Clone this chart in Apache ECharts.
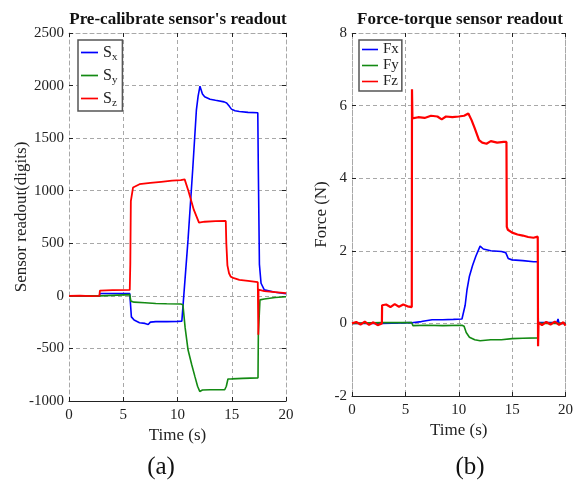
<!DOCTYPE html>
<html><head><meta charset="utf-8">
<script src="https://cdn.jsdelivr.net/npm/echarts@6/dist/echarts.min.js"></script>
<style>html,body{margin:0;padding:0;background:#fff}#c{width:576px;height:480px}</style>
</head><body><div id="c"></div>
<script>
// ---------- (a) Pre-calibrate sensor's readout ----------
const sxT = [0,2.8,2.85,5.6,5.65,5.75,6.0,6.5,7.0,7.3,7.5,8.0,9.0,10.0,10.4,10.5,10.97,11.4,11.74,11.9,12.07,12.3,12.5,13.0,13.5,14.3,14.53,14.8,14.97,15.3,15.7,16.5,17.4,17.45,17.55,17.7,18.0,19.0,20];
const sxV = [0,0,22,22,10,-200,-230,-255,-262,-272,-250,-245,-245,-243,-240,-228,532,1200,1766,1900,1994,1920,1893,1870,1860,1845,1835,1800,1776,1760,1754,1745,1741,1200,300,120,57,35,20];
const syT = [0,2.8,2.85,5.6,5.65,5.7,6.0,7.0,8.0,9.0,10.3,10.5,10.7,10.97,11.3,11.6,11.85,12.05,12.3,13.0,14.35,14.5,14.65,15.0,16.0,17.42,17.45,17.6,18.0,19.0,20];
const syV = [0,0,15,12,10,-50,-60,-65,-72,-75,-78,-85,-300,-513,-650,-766,-860,-909,-895,-893,-893,-860,-791,-790,-785,-780,-370,-38,-30,-15,-8];
const szT = [0,1,2,2.8,2.85,4,5.6,5.65,5.7,5.9,6.5,7.5,8.5,9.5,10.3,10.66,11.0,11.5,11.98,12.5,13.5,14.45,14.5,14.6,14.75,14.9,15.2,15.7,16.5,17.4,17.45,17.47,17.55,18,19,20];
const szV = [0,2,-2,0,50,55,57,300,900,1030,1062,1075,1085,1095,1100,1108,1000,820,696,705,710,712,500,290,215,183,168,152,142,130,-370,60,55,45,35,25];
const yTicksA = [-1000,-500,0,500,1000,1500,2000,2500];

// ---------- (b) Force-torque sensor readout ----------
const fxT = [0,2.8,5.6,5.7,6.5,7.5,8.5,9.5,10.3,10.46,10.6,10.77,11.0,11.3,11.6,12.0,12.3,13.0,14.0,14.4,14.63,15.0,16.0,17.0,17.4,17.45,17.6,18.5,19.2,19.3,19.4,20];
const fxV = [0,0,0.02,0.07,0.05,0.1,0.1,0.11,0.12,0.12,0.5,0.92,1.3,1.6,1.85,2.13,2.05,2.0,1.98,1.95,1.79,1.75,1.73,1.70,1.70,0.02,0,0.02,0.03,0.12,0,0];
const fyT = [0,2.8,5.6,5.7,7,8.5,10.3,10.5,10.7,11.0,11.5,12.0,13.0,14.0,15.0,16.0,17.4,17.45,20];
const fyV = [0,0.02,0.02,-0.06,-0.05,-0.06,-0.05,-0.08,-0.25,-0.38,-0.45,-0.48,-0.45,-0.45,-0.42,-0.41,-0.4,0,0];
const fzT = [0,0.4,0.8,1.2,1.6,2.0,2.4,2.8,2.82,3.2,3.6,4.0,4.4,4.8,5.2,5.6,5.62,5.66,5.7,6.2,6.8,7.4,8.0,8.4,8.8,9.4,10.0,10.5,10.9,11.2,11.5,11.9,12.2,12.6,13.0,13.6,14.2,14.47,14.5,14.6,15.0,15.5,16.0,16.5,17.0,17.4,17.43,17.47,17.8,18.2,18.6,19.0,19.4,19.8,20];
const fzV = [0,0.04,-0.03,0.05,-0.04,0.03,-0.05,0,0.5,0.52,0.45,0.53,0.46,0.52,0.47,0.45,6.45,5.65,5.62,5.68,5.66,5.72,5.70,5.62,5.70,5.68,5.70,5.72,5.78,5.6,5.37,5.05,4.98,4.95,5.02,4.98,5.0,5.0,2.66,2.58,2.5,2.45,2.42,2.38,2.36,2.39,-0.63,0.02,-0.05,0.04,-0.03,0.05,-0.04,0.03,-0.06];
const yTicksB = [-2,0,2,4,6,8];
const xTicks = [0,5,10,15,20];

const zip = (t, v) => t.map((x, i) => [x, v[i]]);
const FONT = '"Liberation Serif", "Times New Roman", serif';
const BLUE = '#0000ff', GREEN = '#138a13', RED = '#ff0000';
const grid = '#a8a8a8';
const plain = v => String(v);
const LEGICON = 'path://M0,0 L20,0 L20,2 L0,2 Z';

function mainX(gi, name) {
  return {
    type: 'value', gridIndex: gi, min: xTicks[0], max: xTicks[xTicks.length - 1], interval: 5,
    name: name, nameLocation: 'middle', nameGap: 26, nameMoveOverlap: false,
    nameTextStyle: { fontFamily: FONT, fontSize: 17, color: '#222' },
    axisLine: { show: true, onZero: false, lineStyle: { color: '#222', width: 1 } },
    axisTick: { show: true, inside: true, length: 4, lineStyle: { color: '#222' } },
    axisLabel: { fontFamily: FONT, fontSize: 15, color: '#222', margin: 7, formatter: plain },
    splitLine: { show: true, lineStyle: { color: grid, type: [4, 3] } }
  };
}
function topX(gi) {
  return {
    type: 'value', gridIndex: gi, position: 'top', min: 0, max: 20, interval: 5,
    axisLine: { show: true, onZero: false, lineStyle: { color: grid, type: [4, 3] } },
    axisTick: { show: true, inside: true, length: 4, lineStyle: { color: '#222' } },
    axisLabel: { show: false }, splitLine: { show: false }
  };
}
function mainY(gi, ticks, name, gap) {
  return {
    type: 'value', gridIndex: gi, min: ticks[0], max: ticks[ticks.length - 1], interval: ticks[1] - ticks[0],
    name: name, nameLocation: 'middle', nameGap: gap, nameMoveOverlap: false,
    nameTextStyle: { fontFamily: FONT, fontSize: 17, color: '#222' },
    axisLine: { show: true, onZero: false, lineStyle: { color: grid, type: [4, 3] } },
    axisTick: { show: true, inside: true, length: 4, lineStyle: { color: '#222' } },
    axisLabel: { fontFamily: FONT, fontSize: 15, color: '#222', margin: 5, formatter: plain },
    splitLine: { show: true, lineStyle: { color: grid, type: [4, 3] } }
  };
}
function rightY(gi, ticks) {
  return {
    type: 'value', gridIndex: gi, position: 'right', min: ticks[0], max: ticks[ticks.length - 1], interval: ticks[1] - ticks[0],
    axisLine: { show: true, onZero: false, lineStyle: { color: grid, type: [4, 3] } },
    axisTick: { show: true, inside: true, length: 4, lineStyle: { color: '#222' } },
    axisLabel: { show: false }, splitLine: { show: false }
  };
}
function line(name, data, xi, yi, color, w) {
  return { type: 'line', name: name, data: data, xAxisIndex: xi, yAxisIndex: yi,
    symbol: 'none', showSymbol: false, animation: false,
    lineStyle: { color: color, width: w }, itemStyle: { color: color } };
}

const chart = echarts.init(document.getElementById('c'), null, { renderer: 'canvas' });
chart.setOption({
  animation: false,
  backgroundColor: '#fff',
  grid: [
    { left: 69, top: 33, width: 217, height: 368 },
    { left: 352, top: 33, width: 216, height: 363 }
  ],
  xAxis: [mainX(0, 'Time (s)'), mainX(1, 'Time (s)'), topX(0), topX(1)],
  yAxis: [mainY(0, yTicksA, 'Sensor readout(digits)', 39), mainY(1, yTicksB, 'Force (N)', 22), rightY(0, yTicksA), rightY(1, yTicksB)],
  legend: [
    { data: ['Sx', 'Sy', 'Sz'], orient: 'vertical', left: 78, top: 40, icon: LEGICON,
      backgroundColor: '#fff', borderColor: '#555', borderWidth: 1.5, borderRadius: 0,
      padding: [2, 5, 2, 3], itemGap: 2, itemWidth: 17, itemHeight: 2,
      formatter: n => '{s|S}{b|' + n.slice(1) + '}',
      textStyle: { fontFamily: FONT, color: '#222', lineHeight: 20,
        rich: { s: { fontFamily: FONT, fontSize: 16, color: '#222', lineHeight: 20 },
                b: { fontFamily: FONT, fontSize: 11, color: '#222', lineHeight: 20, padding: [10, 0, 0, 0] } } } },
    { data: ['Fx', 'Fy', 'Fz'], orient: 'vertical', left: 359, top: 40, icon: LEGICON,
      backgroundColor: '#fff', borderColor: '#555', borderWidth: 1.5, borderRadius: 0,
      padding: [2, 3, 2, 3], itemGap: 1, itemWidth: 16, itemHeight: 2,
      textStyle: { fontFamily: FONT, fontSize: 15, color: '#222', lineHeight: 15 } }
  ],
  series: [
    line('Sx', zip(sxT, sxV), 0, 0, BLUE, 1.6),
    line('Sy', zip(syT, syV), 0, 0, GREEN, 1.6),
    line('Sz', zip(szT, szV), 0, 0, RED, 1.8),
    line('Fx', zip(fxT, fxV), 1, 1, BLUE, 1.6),
    line('Fy', zip(fyT, fyV), 1, 1, GREEN, 1.6),
    line('Fz', zip(fzT, fzV), 1, 1, RED, 2.2)
  ],
  graphic: [
    { type: 'text', x: 178, y: 20, style: { text: "Pre-calibrate sensor's readout", font: 'bold 17px ' + FONT, fill: '#111', align: 'center', verticalAlign: 'middle' } },
    { type: 'text', x: 460, y: 20, style: { text: 'Force-torque sensor readout', font: 'bold 17px ' + FONT, fill: '#111', align: 'center', verticalAlign: 'middle' } },
    { type: 'text', x: 161, y: 467, style: { text: '(a)', font: '25px ' + FONT, fill: '#111', align: 'center', verticalAlign: 'middle' } },
    { type: 'text', x: 470, y: 467, style: { text: '(b)', font: '25px ' + FONT, fill: '#111', align: 'center', verticalAlign: 'middle' } }
  ]
});
</script></body></html>
